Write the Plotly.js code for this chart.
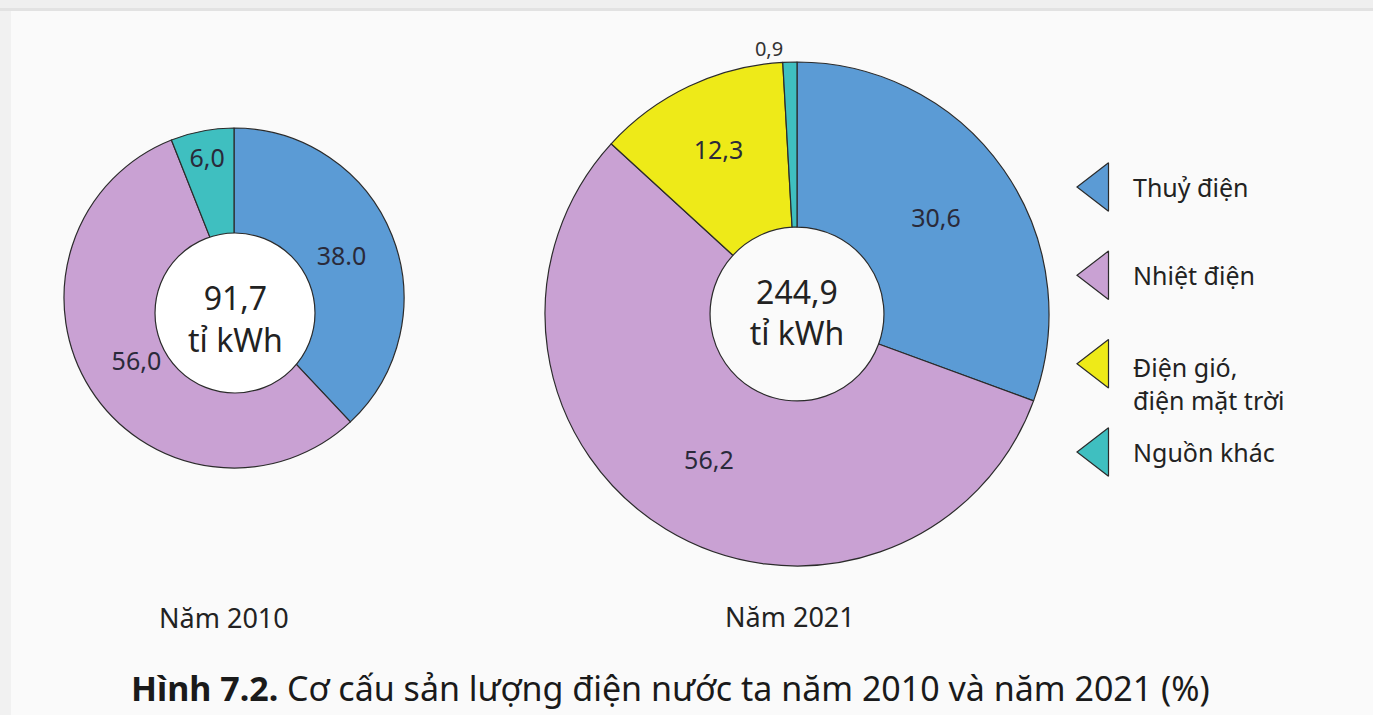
<!DOCTYPE html>
<html>
<head>
<meta charset="utf-8">
<script src="https://cdn.plot.ly/plotly-3.0.1.min.js"></script>
<style>html,body{margin:0;padding:0;background:#fafafa;}#chart{width:1373px;height:715px;}</style>
</head>
<body>
<div id="chart"></div>
<script>
// Data
const categories = ['Thuỷ điện', 'Nhiệt điện', 'Điện gió, điện mặt trời', 'Nguồn khác'];
const legendLabels = ['Thuỷ điện', 'Nhiệt điện', 'Điện gió,<br>điện mặt trời', 'Nguồn khác'];
const colors = ['#5b9bd5', '#c9a1d3', '#eeea18', '#3fbfc0'];

const cats2010 = ['Thuỷ điện', 'Nhiệt điện', 'Nguồn khác'];
const values2010 = [38.0, 56.0, 6.0];
const text2010 = ['38.0', '56,0', '6,0'];
const total2010 = '91,7';

const cats2021 = ['Thuỷ điện', 'Nhiệt điện', 'Điện gió, điện mặt trời', 'Nguồn khác'];
const values2021 = [30.6, 56.2, 12.3, 0.9];
const total2021 = '244,9';

const yearLabels = ['Năm 2010', 'Năm 2021'];
const unit = 'tỉ kWh';

const fmt = v => v.toFixed(1).replace('.', ',');
const colorOf = c => colors[categories.indexOf(c)];

const W = 1373, H = 715;
const px = x => x / W;
const py = y => 1 - y / H;

const font = 'Noto Sans, Open Sans, DejaVu Sans, sans-serif';
const lineStyle = {color: '#2b2b2b', width: 1.2};

const pie2010 = {
  type: 'pie', sort: false, direction: 'clockwise', rotation: 0,
  labels: cats2010, values: values2010, text: text2010,
  textinfo: 'text', texttemplate: '%{text}', hoverinfo: 'label+value',
  textposition: 'inside', insidetextorientation: 'horizontal',
  textfont: {family: font, size: 25, color: '#2a2a3a'},
  marker: {colors: cats2010.map(colorOf), line: lineStyle},
  hole: 0.36,
  domain: {x: [px(64), px(404)], y: [py(468), py(128)]},
  showlegend: false
};

const pie2021 = {
  type: 'pie', sort: false, direction: 'clockwise', rotation: 0,
  labels: cats2021, values: values2021, text: values2021.map(fmt),
  textinfo: 'text', texttemplate: '%{text}', hoverinfo: 'label+value',
  textposition: ['inside', 'inside', 'inside', 'outside'], insidetextorientation: 'horizontal',
  textfont: {family: font, size: 25, color: '#2a2a3a'},
  outsidetextfont: {family: font, size: 20, color: '#333'},
  marker: {colors: cats2021.map(colorOf), line: lineStyle},
  hole: 0.345,
  domain: {x: [px(545), px(1049)], y: [py(566), py(62)]},
  title: {text: total2021 + '<br>' + unit, position: 'middle center', font: {family: font, size: 32, color: '#222'}},
  showlegend: false
};

const legendTrace = {
  type: 'scatter', mode: 'markers', xaxis: 'x', yaxis: 'y',
  x: categories.map(() => 0), y: categories.map((c, i) => i),
  marker: {symbol: 'triangle-left', size: 42, color: colors, line: {color: '#2b2b2b', width: 1.2}},
  cliponaxis: false, hoverinfo: 'skip', showlegend: false
};

const annotations = [];
legendLabels.forEach((lab, i) => {
  const multi = lab.indexOf('<br>') >= 0;
  annotations.push({
    xref: 'paper', yref: 'y', x: px(1131), y: i, xanchor: 'left', yanchor: 'middle',
    yshift: multi ? -20 : 0, align: 'left',
    text: lab, showarrow: false, font: {family: font, size: 25, color: '#222'}
  });
});
// centre label of the 2010 ring (drawn above the hole circle)
annotations.push({xref: 'paper', yref: 'paper', x: px(235), y: py(318), text: total2010 + '<br>' + unit, showarrow: false, xanchor: 'center', yanchor: 'middle', font: {family: font, size: 32, color: '#222'}});
annotations.push({xref: 'paper', yref: 'paper', x: px(224), y: py(617), text: yearLabels[0], showarrow: false, xanchor: 'center', yanchor: 'middle', font: {family: font, size: 27, color: '#222'}});
annotations.push({xref: 'paper', yref: 'paper', x: px(790), y: py(616), text: yearLabels[1], showarrow: false, xanchor: 'center', yanchor: 'middle', font: {family: font, size: 27, color: '#222'}});
annotations.push({xref: 'paper', yref: 'paper', x: px(670), y: py(688), text: '<b>Hình 7.2.</b> Cơ cấu sản lượng điện nước ta năm 2010 và năm 2021 (%)', showarrow: false, xanchor: 'center', yanchor: 'middle', font: {family: font, size: 34, color: '#1a1a1a'}});

const layout = {
  width: W, height: H,
  margin: {l: 0, r: 0, t: 0, b: 0},
  paper_bgcolor: '#fafafa', plot_bgcolor: 'rgba(0,0,0,0)',
  separators: ',.',
  xaxis: {domain: [px(1083), px(1113)], range: [-1, 1], visible: false, fixedrange: true},
  yaxis: {domain: [py(452), py(187)], range: [3, 0], visible: false, fixedrange: true},
  shapes: [
    {type: 'rect', xref: 'paper', yref: 'paper', x0: 0, x1: 1, y0: py(8), y1: 1, fillcolor: '#efefef', line: {width: 0}, layer: 'below'},
    {type: 'rect', xref: 'paper', yref: 'paper', x0: 0, x1: 1, y0: py(11), y1: py(8), fillcolor: '#e2e2e2', line: {width: 0}, layer: 'below'},
    {type: 'rect', xref: 'paper', yref: 'paper', x0: 0, x1: px(11), y0: 0, y1: py(11), fillcolor: '#f1f1f1', line: {width: 0}, layer: 'below'},
    // off-centre hole of the 2010 ring
    {type: 'circle', xref: 'paper', yref: 'paper', x0: px(155), x1: px(315), y0: py(393), y1: py(233), fillcolor: '#ffffff', line: {color: '#2b2b2b', width: 1.2}, layer: 'above'}
  ],
  annotations: annotations
};

Plotly.newPlot('chart', [pie2010, pie2021, legendTrace], layout, {staticPlot: true, displayModeBar: false});
</script>
</body>
</html>
